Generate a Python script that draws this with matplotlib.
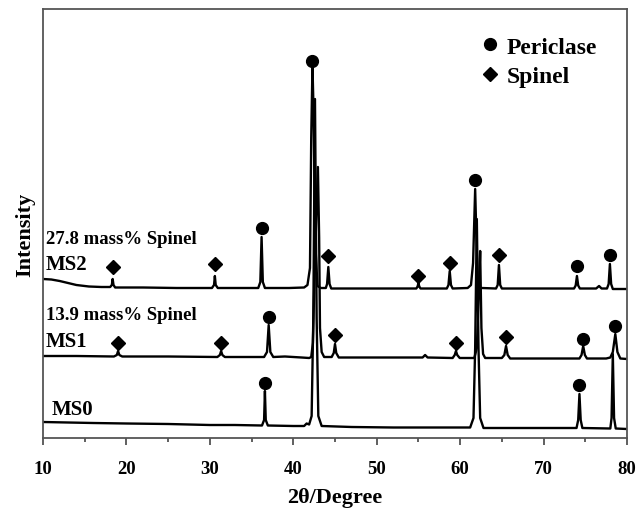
import matplotlib
matplotlib.use('Agg')
from matplotlib import pyplot as plt
from matplotlib.lines import Line2D

# XRD traces: (2theta, intensity a.u.)
ms0_2theta = [10, 13, 16, 20, 25, 30, 33, 36.25, 36.5, 36.6, 36.7, 36.95, 40, 41.3, 41.6, 41.9,
              42.2, 42.4, 42.6, 42.8, 43.0, 43.4, 47, 52, 57, 61.2, 61.6, 61.8, 62.0, 62.2,
              62.4, 62.8, 67, 71, 73.95, 74.15, 74.3, 74.45, 74.65, 78.0, 78.15, 78.3, 78.45,
              78.65, 80]
ms0_int = [16, 15.5, 15, 14.5, 14, 13, 13, 12.5, 18, 47, 18, 12.5, 12, 12, 14.5, 13.5,
           22, 120, 339, 120, 22, 12, 11, 10.5, 10.5, 10.5, 20, 90, 219, 90,
           20, 10, 10, 10, 10, 18, 44, 18, 10, 9.5, 20, 84, 20,
           9.5, 9]

ms1_2theta = [10, 14, 18.5, 18.85, 19.0, 19.15, 19.5, 25, 30.9, 31.2, 31.35, 31.5, 31.8, 35, 36.5,
              36.85, 37.05, 37.25, 37.6, 39, 41, 41.9, 42.15, 42.35, 42.6, 42.95, 43.1, 43.2,
              43.4, 43.7, 44.6, 44.85, 45.0, 45.15, 45.45, 50, 55.5, 55.8, 56.1, 59.1, 59.35,
              59.5, 59.65, 59.95, 61.7, 62.0, 62.3, 62.4, 62.55, 62.75, 63.0, 65.0, 65.3, 65.5,
              65.7, 66.0, 70, 74.3, 74.55, 74.75, 74.95, 75.2, 77.5, 78.0, 78.3, 78.6, 78.85,
              79.2, 80]
ms1_int = [82, 82, 81.5, 83, 87, 83, 81.5, 81.5, 81, 83, 87, 83, 81, 81, 81,
           86, 113, 86, 81, 81.5, 80.5, 80, 81, 95, 180, 271, 200, 110,
           86, 81, 81, 85, 94, 85, 80.5, 80.5, 80.5, 83, 80.5, 80, 83,
           87, 83, 80, 80, 90, 160, 187, 110, 84, 80, 80, 83, 92,
           83, 79.5, 79.5, 79.5, 83, 92, 83, 79.5, 79.5, 80.5, 86, 104, 86,
           79.5, 79]

ms2_2theta = [10, 11, 12, 13, 14, 15.5, 17, 18.05, 18.25, 18.35, 18.45, 18.65, 22, 26, 30.25,
              30.5, 30.6, 30.7, 30.95, 35.8, 36.05, 36.2, 36.35, 36.6, 39.5, 41.3, 41.7, 42.0,
              42.15, 42.3, 42.45, 42.6, 42.9, 43.3, 43.9, 44.05, 44.2, 44.35, 44.55, 48, 52,
              54.75, 54.9, 55.0, 55.1, 55.25, 58.4, 58.6, 58.75, 58.9, 59.1, 60.9, 61.3, 61.55,
              61.8, 61.95, 62.1, 62.35, 62.6, 64.3, 64.5, 64.65, 64.8, 65.0, 68, 73.65, 73.85,
              74.0, 74.15, 74.35, 76.3, 76.65, 76.95, 77.6, 77.8, 77.95, 78.1, 78.3, 80]
ms2_int = [159, 158.5, 157, 155, 153, 151.5, 151, 151, 153, 159, 153, 150.5, 150.5, 150, 150,
           153, 162, 153, 150, 150, 156, 201, 156, 150, 150, 150.5, 153, 170,
           300, 372, 320, 200, 152, 150, 150, 154, 171, 154, 149.5, 149.5, 149.5,
           149.5, 151.5, 155, 151.5, 149.5, 149.5, 153, 167, 153, 149.5, 150, 153, 175,
           249, 200, 160, 150, 150, 149.5, 153, 173, 153, 149.5, 149.5, 149.5, 152.5,
           162, 152.5, 149.5, 149.5, 152, 149.5, 149.5, 154, 174, 154, 149, 149]

# phase markers (2theta, height)
periclase_2theta = [36.2, 42.3, 61.8, 74.0, 77.95, 37.05, 74.75, 78.6, 36.6, 74.3]
periclase_y = [210, 377, 258, 172, 183, 121, 99, 112, 55, 53]
spinel_2theta = [18.35, 30.6, 44.2, 55.0, 58.75, 64.65, 19.0, 31.35, 45.0, 59.5, 65.5]
spinel_y = [171, 174, 182, 162, 175, 183, 95, 95, 103, 95, 101]

plt.rcParams['font.family'] = 'Liberation Serif'
plt.rcParams['font.weight'] = 'bold'
plt.rcParams['axes.labelweight'] = 'bold'

fig = plt.figure(figsize=(6.44, 5.10), dpi=100)
ax = fig.add_axes([43 / 644, 71 / 510, 584 / 644, 429 / 510])

for xs, ys in [(ms0_2theta, ms0_int), (ms1_2theta, ms1_int), (ms2_2theta, ms2_int)]:
    ax.plot(xs, ys, color='black', lw=1.7, solid_joinstyle='round')

ax.plot(periclase_2theta, periclase_y, 'o', color='black', ms=8.5, ls='none')
ax.plot(spinel_2theta, spinel_y, 'D', color='black', ms=7.3, ls='none')

ax.text(10.36, 199, '27.8 mass% Spinel', fontsize=13.5, va='center', ha='left')
ax.text(10.36, 174, 'MS2', fontsize=15, va='center', ha='left')
ax.text(10.36, 123, '13.9 mass% Spinel', fontsize=13.5, va='center', ha='left')
ax.text(10.36, 97, 'MS1', fontsize=15, va='center', ha='left')
ax.text(11.08, 29, 'MS0', fontsize=15, va='center', ha='left')

handles = [Line2D([], [], marker='o', color='black', ls='none', ms=8.5),
           Line2D([], [], marker='D', color='black', ls='none', ms=7.3)]
ax.legend(handles, ['Periclase', 'Spinel'], loc='upper left',
          bbox_to_anchor=((483 - 43) / 584, (439 - 37) / 429), frameon=False,
          fontsize=17, handlelength=0.6, handletextpad=0.42, labelspacing=0.35,
          borderpad=0, borderaxespad=0)

ax.set_xlim(10, 80)
ax.set_ylim(0, 429)
ax.set_xticks(range(10, 81, 10))
ax.set_xticks(range(15, 80, 10), minor=True)
ax.set_yticks([])
ax.tick_params(axis='x', which='major', direction='out', length=5, width=1.2,
               labelsize=13.5, pad=11, color='#444444')
ax.tick_params(axis='x', which='minor', direction='out', length=3, width=1.2, color='#444444')
for s in ax.spines.values():
    s.set_color('#555555')
    s.set_linewidth(1.3)

ax.set_xlabel('2θ/Degree', fontsize=16)
ax.set_ylabel('Intensity', fontsize=16)
ax.xaxis.set_label_coords((335 - 43) / 584, (439 - 488) / 429)
ax.yaxis.set_label_coords((35 - 43) / 584, (439 - 235) / 429)

fig.savefig('out.png', dpi=100)
